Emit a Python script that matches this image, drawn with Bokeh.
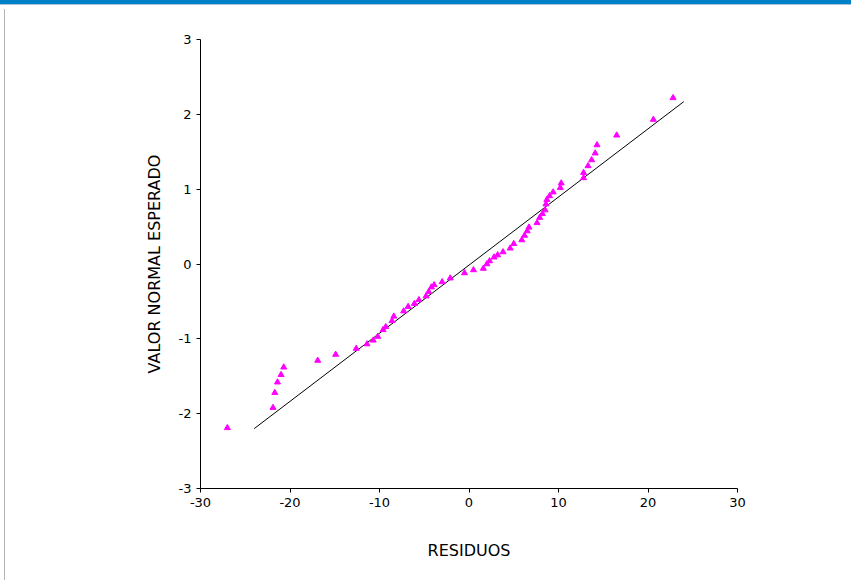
from bokeh.plotting import figure
from bokeh.models import Div, FixedTicker
from bokeh.layouts import column, row
from bokeh.embed import file_html
from bokeh.resources import INLINE

# residuals (x) vs expected normal value (y)
residuos = [-27.0, -21.9, -21.7, -21.4, -21.0, -20.7, -16.9, -14.9, -12.6, -11.4,
            -10.7, -10.2, -9.6, -9.3, -8.6, -8.4, -7.3, -6.8, -6.1, -5.6,
            -4.8, -4.5, -4.2, -3.9, -3.0, -2.1, -0.5, 0.5, 1.6, 2.0,
            2.3, 2.8, 3.2, 3.8, 4.6, 5.0, 5.9, 6.2, 6.5, 6.7,
            7.6, 7.9, 8.2, 8.5, 8.6, 8.7, 9.0, 9.4, 10.2, 10.3,
            12.8, 12.8, 13.3, 13.7, 14.1, 14.3, 16.5, 20.6, 22.8]
valor_normal = [-2.19, -1.92, -1.72, -1.58, -1.48, -1.38, -1.29, -1.21, -1.13, -1.07,
                -1.02, -0.97, -0.88, -0.84, -0.76, -0.70, -0.63, -0.57, -0.53, -0.48,
                -0.43, -0.37, -0.31, -0.28, -0.24, -0.19, -0.12, -0.08, -0.06, 0.0,
                0.04, 0.09, 0.12, 0.16, 0.21, 0.27, 0.32, 0.38, 0.44, 0.49,
                0.55, 0.62, 0.67, 0.72, 0.80, 0.86, 0.91, 0.96, 1.02, 1.08,
                1.15, 1.22, 1.31, 1.39, 1.48, 1.59, 1.72, 1.93, 2.22]

ref_line_x = [-24.0, 24.0]
ref_line_y = [-2.2, 2.17]

x_ticks = [-30, -20, -10, 0, 10, 20, 30]
y_ticks = [-3, -2, -1, 0, 1, 2, 3]

FONT = "DejaVu Sans"

p = figure(width=846, height=575, x_range=(-30, 30), y_range=(-3, 3),
           output_backend="svg", toolbar_location=None,
           min_border_left=195, min_border_right=114,
           min_border_top=34, min_border_bottom=92)
p.outline_line_color = None
p.xgrid.visible = False
p.ygrid.visible = False
p.background_fill_color = "white"
p.border_fill_color = "white"

p.line(ref_line_x, ref_line_y, line_color="black", line_width=1)
p.scatter(residuos, valor_normal, marker="triangle", size=6,
          fill_color="#FF00FF", line_color="#FF00FF")

for ax in (p.xaxis[0], p.yaxis[0]):
    ax.axis_line_color = "black"
    ax.major_tick_line_color = "black"
    ax.major_tick_out = 4
    ax.major_tick_in = 0
    ax.minor_tick_line_color = None
    ax.major_label_text_font = FONT
    ax.major_label_text_font_size = "13px"
    ax.major_label_text_color = "black"
    ax.axis_label_text_font = FONT
    ax.axis_label_text_font_size = "16px"
    ax.axis_label_text_font_style = "normal"
    ax.axis_label_text_color = "black"

p.xaxis.ticker = FixedTicker(ticks=x_ticks)
p.yaxis.ticker = FixedTicker(ticks=y_ticks)
p.xaxis.major_label_overrides = {t: str(t) for t in x_ticks}
p.yaxis.major_label_overrides = {t: str(t) for t in y_ticks}
p.xaxis.axis_label = "RESIDUOS"
p.yaxis.axis_label = "VALOR NORMAL ESPERADO"
p.xaxis.axis_label_standoff = 31
p.yaxis.axis_label_standoff = 12

band = Div(text="", width=851, height=5, margin=0,
           styles={"background-color": "#0080C6", "border-bottom": "1px solid #A9C3DA"})
left_gap = Div(text="", width=4, height=575, margin=0, styles={"background-color": "white"})
left_line = Div(text="", width=1, height=571, margin=(4, 0, 0, 0),
                styles={"background-color": "#B4B4B4"})

layout = column(band, row(left_gap, left_line, p, spacing=0), spacing=0)

open("out.html", "w").write(file_html(layout, INLINE))
